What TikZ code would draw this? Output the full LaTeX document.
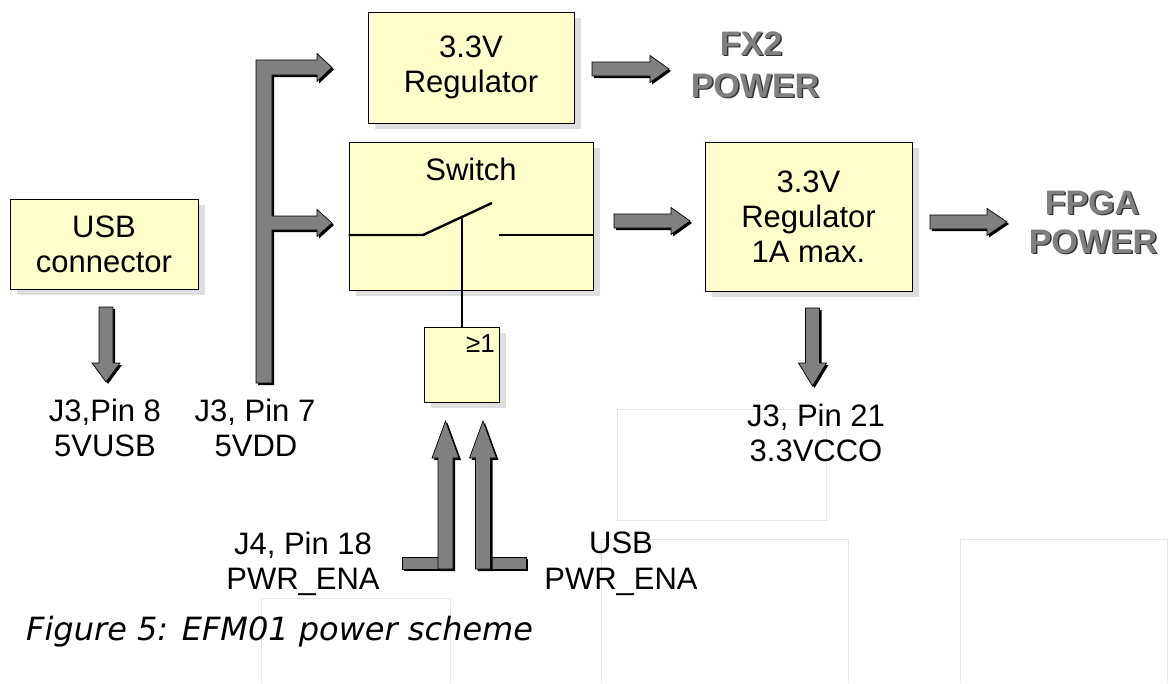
\documentclass[tikz,border=0pt]{standalone}
\usepackage{fontspec}
\setmainfont{Liberation Sans}
\newfontfamily\capfont{DejaVu Sans}
\usetikzlibrary{shadows}
\definecolor{boxfill}{HTML}{FFFFCC}
\definecolor{arrfill}{HTML}{808080}
\definecolor{shadowgrey}{HTML}{DEDEDE}
\definecolor{faint}{HTML}{E6E6E6}
\tikzset{
  blk/.style={draw=black, line width=0.9pt, fill=boxfill, inner sep=0pt, align=center,
    font=\fontsize{31}{35}\selectfont,
    drop shadow={shadow xshift=7pt, shadow yshift=-6pt, fill=shadowgrey, draw=none, opacity=1}},
  blkarrow/.style={fill=arrfill, draw=black, line width=0.7pt, line join=miter},
  blkshadow/.style={fill=black},
  lbl/.style={font=\fontsize{31}{35}\selectfont, inner sep=0pt, anchor=base},
  pwr/.style={font=\bfseries\fontsize{34}{40}\selectfont, inner sep=0pt, anchor=base, text=arrfill},
  pwrshadow/.style={font=\bfseries\fontsize{34}{40}\selectfont, inner sep=0pt, anchor=base, text=black!80},
  swline/.style={line width=2.4pt},
  faintbox/.style={draw=faint, line width=0.8pt}
}
% right-pointing block arrow: x start, x tip, y centre, head length
\newcommand\RArrow[4]{%
  \begin{scope}[shift={(2,2)}]
    \fill[blkshadow] (#1,#3-7) -- (#2-#4,#3-7) -- (#2-#4,#3-13.5) -- (#2,#3) -- (#2-#4,#3+13.5) -- (#2-#4,#3+7) -- (#1,#3+7) -- cycle;
  \end{scope}
  \filldraw[blkarrow] (#1,#3-7) -- (#2-#4,#3-7) -- (#2-#4,#3-13.5) -- (#2,#3) -- (#2-#4,#3+13.5) -- (#2-#4,#3+7) -- (#1,#3+7) -- cycle;}
% down-pointing block arrow: x centre, y top, y tip, head length
\newcommand\DArrow[4]{%
  \begin{scope}[shift={(2,2)}]
    \fill[blkshadow] (#1-7,#2) -- (#1+7,#2) -- (#1+7,#3-#4) -- (#1+14,#3-#4) -- (#1,#3) -- (#1-14,#3-#4) -- (#1-7,#3-#4) -- cycle;
  \end{scope}
  \filldraw[blkarrow] (#1-7,#2) -- (#1+7,#2) -- (#1+7,#3-#4) -- (#1+14,#3-#4) -- (#1,#3) -- (#1-14,#3-#4) -- (#1-7,#3-#4) -- cycle;}
% up-pointing block arrow: x centre, y bottom, y tip, head length
\newcommand\UArrow[4]{%
  \begin{scope}[shift={(2,2)}]
    \fill[blkshadow] (#1-7.5,#2) -- (#1+7.5,#2) -- (#1+7.5,#3+#4) -- (#1+13.5,#3+#4) -- (#1,#3) -- (#1-13.5,#3+#4) -- (#1-7.5,#3+#4) -- cycle;
  \end{scope}
  \filldraw[blkarrow] (#1-7.5,#2) -- (#1+7.5,#2) -- (#1+7.5,#3+#4) -- (#1+13.5,#3+#4) -- (#1,#3) -- (#1-13.5,#3+#4) -- (#1-7.5,#3+#4) -- cycle;}
\begin{document}
\begin{tikzpicture}[x=1pt,y=-1pt]
\useasboundingbox (0,0) rectangle (1170,683);
% faint background frames
\draw[faintbox] (617,409) rectangle (826,520);
\draw[faintbox] (601,683) -- (601,539) -- (848,539) -- (848,683);
\draw[faintbox] (960,683) -- (960,539) -- (1167,539) -- (1167,683);
\draw[faintbox] (261,683) -- (261,598) -- (450,598) -- (450,683);

% blocks
\node[blk, minimum width=188, minimum height=90] (usb) at (104,244) {USB\\connector};
\node[blk, minimum width=206, minimum height=111] (reg1) at (471,67.5) {3.3V\\Regulator};
\node[blk, minimum width=244, minimum height=148] (sw) at (471,216) {};
\node[lbl] (swt) at (471,180) {Switch};
\node[blk, minimum width=207, minimum height=149] (reg2) at (808.5,216.5) {3.3V\\Regulator\\1A max.};
\node[blk, minimum width=75, minimum height=75] (orgate) at (461.5,364.5) {};
\node[font=\fontsize{26}{26}\selectfont, anchor=base east, inner sep=0pt] (orl) at (495,352) {≥1};

% switch symbol
\coordinate (hinge) at (423,235);
\coordinate (lever) at (492,203);
\coordinate (contact) at (499,235);
\coordinate (leverjoin) at (462,217);
\draw[swline] (sw.west |- hinge) -- (hinge) -- (lever);
\draw[swline] (contact) -- (sw.east |- contact);
\draw[swline] (leverjoin) -- (leverjoin |- orgate.north);

% 5VDD bus with two branches
\begin{scope}[shift={(2,2)}]
\fill[blkshadow] (256,60) -- (317,60) -- (317,53.5) -- (332,67.5) -- (317,81.5) -- (317,75) -- (272,75)
  -- (272,216) -- (317,216) -- (317,209.5) -- (332,223) -- (317,236.5) -- (317,230) -- (272,230)
  -- (272,383) -- (256,383) -- cycle;
\end{scope}
\filldraw[blkarrow] (256,60) -- (317,60) -- (317,53.5) -- (332,67.5) -- (317,81.5) -- (317,75) -- (272,75)
  -- (272,216) -- (317,216) -- (317,209.5) -- (332,223) -- (317,236.5) -- (317,230) -- (272,230)
  -- (272,383) -- (256,383) -- cycle;

% block arrows
\RArrow{592}{669}{69}{19}
\RArrow{614}{690}{221}{19}
\RArrow{930}{1007}{222}{20}
\DArrow{106}{307}{382}{19}
\DArrow{812.5}{308}{386}{23}

% enable inputs with feet
\begin{scope}[shift={(2,2)}]
\fill[blkshadow] (402,557) rectangle (445,569);
\fill[blkshadow] (483,557) rectangle (526,569);
\end{scope}
\filldraw[blkarrow] (402,557) rectangle (445,569);
\filldraw[blkarrow] (483,557) rectangle (526,569);
\UArrow{445.5}{569}{421}{37}
\UArrow{483}{569}{421}{37}

% labels
\node[lbl] (j3p8) at (105,421) {J3,Pin 8};
\node[lbl] (v5usb) at (105,456) {5VUSB};
\node[lbl] (j3p7) at (255,421) {J3, Pin 7};
\node[lbl] (v5dd) at (256,456) {5VDD};
\node[lbl] (j3p21) at (816,426) {J3, Pin 21};
\node[lbl] (vcco) at (816,461) {3.3VCCO};
\node[lbl] (j4p18) at (303,554) {J4, Pin 18};
\node[lbl] (pwrena1) at (303,589) {PWR\_ENA};
\node[lbl] (usbl) at (621,553) {USB};
\node[lbl] (pwrena2) at (621,589) {PWR\_ENA};

% power outputs
\node[pwrshadow] (fx2s) at (752.5,56.5) {FX2};
\node[pwrshadow] (fx2ps) at (756.5,98.5) {POWER};
\node[pwr] (fx2) at (751,55) {FX2};
\node[pwr] (fx2p) at (755,97) {POWER};
\node[pwrshadow] (fpgas) at (1093.5,215.5) {FPGA};
\node[pwrshadow] (fpgaps) at (1094.5,254.5) {POWER};
\node[pwr] (fpga) at (1092,214) {FPGA};
\node[pwr] (fpgap) at (1093,253) {POWER};

% caption
\node[anchor=base west, inner sep=0pt, font=\capfont\itshape\fontsize{32}{36}\selectfont] (caption) at (26,640) {Figure 5: EFM01 power scheme};
\end{tikzpicture}
\end{document}
